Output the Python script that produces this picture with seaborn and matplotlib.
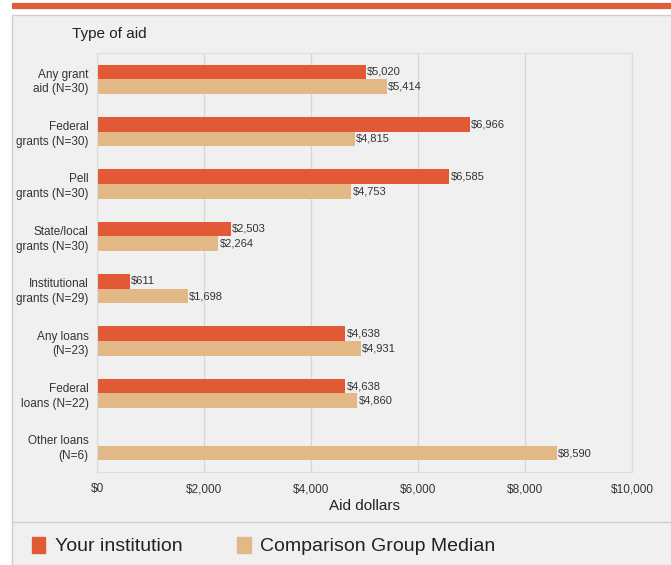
import matplotlib
matplotlib.use("Agg")
import matplotlib.pyplot as plt
import seaborn as sns
import pandas as pd
from matplotlib.patches import Rectangle
from matplotlib.lines import Line2D

# data
categories = ['Any grant\naid (N=30)', 'Federal\ngrants (N=30)', 'Pell\ngrants (N=30)',
              'State/local\ngrants (N=30)', 'Institutional\ngrants (N=29)', 'Any loans\n(N=23)',
              'Federal\nloans (N=22)', 'Other loans\n(N=6)']
your_inst = [5020, 6966, 6585, 2503, 611, 4638, 4638, 0]
comparison = [5414, 4815, 4753, 2264, 1698, 4931, 4860, 8590]
series = ['Your institution', 'Comparison Group Median']
colors = ['#e25a35', '#e3b887']

sns.set_theme(style='white')
plt.rcParams['font.family'] = ['Liberation Sans', 'DejaVu Sans']

df = pd.DataFrame({
    'cat': categories * 2,
    'val': your_inst + comparison,
    'series': [series[0]] * len(categories) + [series[1]] * len(categories),
})

fig = plt.figure(figsize=(6.71, 5.65), dpi=100)
bg = '#f0f0f0'
fig.patch.set_facecolor('white')

# panel background, top accent line, legend separator
fig.add_artist(Rectangle((12 / 671, 0), 1, (565 - 15) / 565, transform=fig.transFigure,
                         facecolor=bg, edgecolor='#d0d0d0', lw=1, zorder=-5))
fig.add_artist(Line2D([12 / 671, 1], [(565 - 6) / 565] * 2, transform=fig.transFigure,
                      color='#d9603b', lw=4.5, solid_capstyle='butt'))
fig.add_artist(Line2D([12 / 671, 1], [(565 - 522) / 565] * 2, transform=fig.transFigure,
                      color='#cfcfcf', lw=1))

ax = fig.add_axes([97 / 671, (565 - 472) / 565, (632 - 97) / 671, (472 - 53) / 565])
ax.set_facecolor(bg)

sns.barplot(data=df, y='cat', x='val', hue='series', palette=colors, orient='h',
            width=0.56, gap=0.0, legend=False, ax=ax, saturation=1, linewidth=0)

ax.set_xlim(0, 10000)
ax.set_xticks(range(0, 10001, 2000))
ax.set_xticklabels([f'${v:,}' for v in range(0, 10001, 2000)], fontsize=8.5, color='#333333')
ax.tick_params(axis='x', length=0, pad=8)
ax.tick_params(axis='y', length=0, pad=6)
ax.set_yticklabels(categories, fontsize=8.5, color='#333333', linespacing=1.3)
ax.set_ylabel('')
ax.set_xlabel('Aid dollars', fontsize=11, color='#222222', labelpad=3)
ax.grid(axis='x', color='#d6d6d6', lw=0.9)
ax.set_axisbelow(True)
for s in ax.spines.values():
    s.set_color('#dddddd')
    s.set_linewidth(0.8)

for cont in ax.containers:
    labels = [f'${v:,.0f}' if v > 0 else '' for v in cont.datavalues]
    ax.bar_label(cont, labels=labels, padding=1, fontsize=8, color='#333333')

fig.text(72 / 671, 1 - 34 / 565, 'Type of aid', fontsize=11, color='#222222', va='center')

# legend
handles = [Rectangle((0, 0), 1, 1, color=c) for c in colors]
fig.legend(handles, series, loc='center left', bbox_to_anchor=(14 / 671, 1 - 546 / 565),
           ncol=2, frameon=False, fontsize=14, handlelength=0.7, handleheight=0.9,
           handletextpad=0.5, columnspacing=2.8, labelcolor='#222222')

fig.savefig('out.png', dpi=100)
